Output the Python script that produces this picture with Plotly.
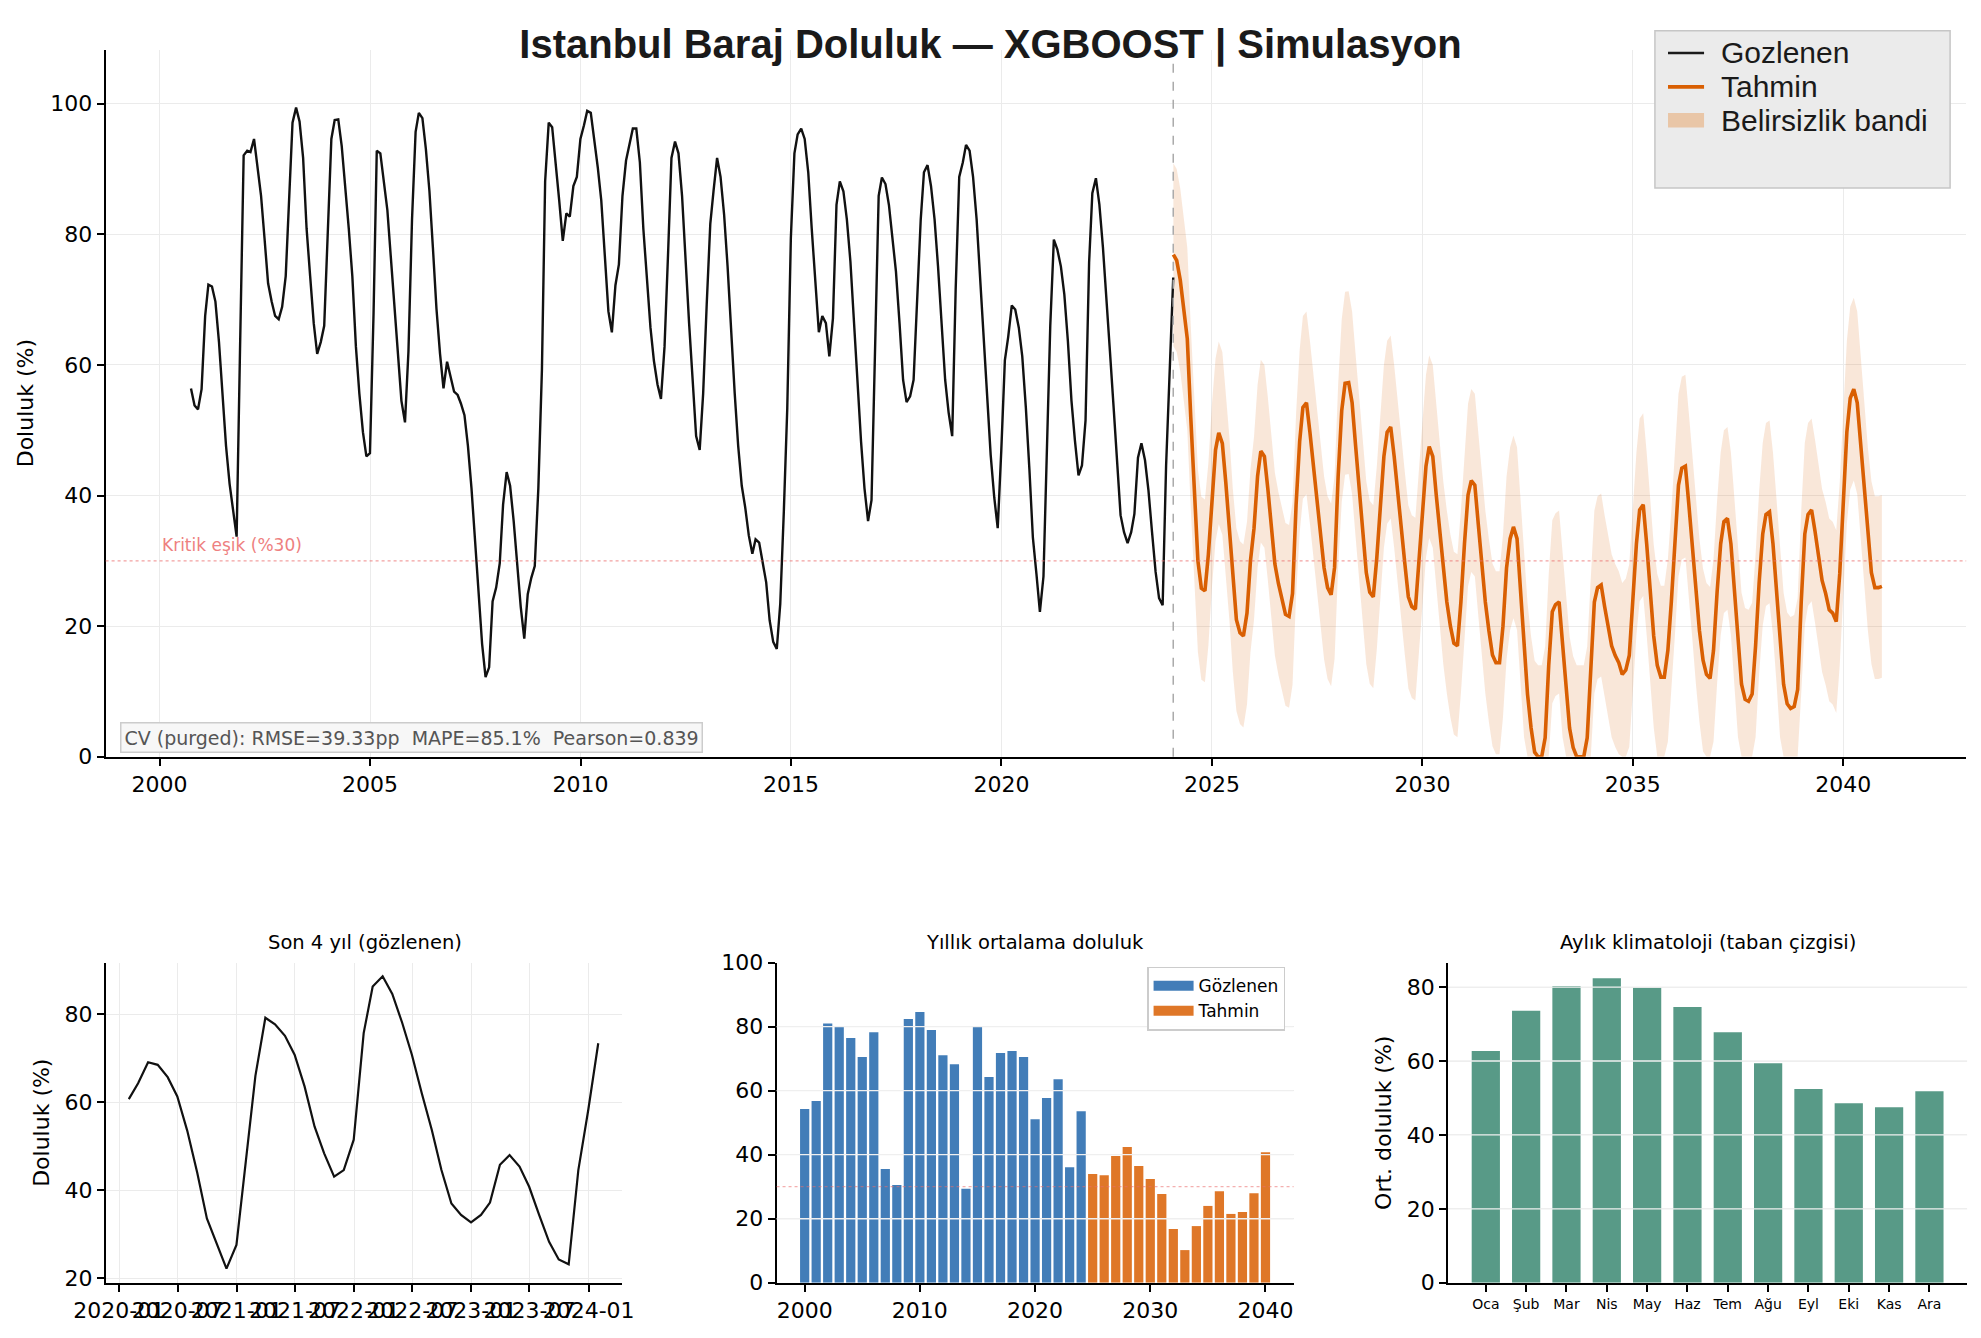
import pandas as pd
import plotly.graph_objects as go

# ---------------- data ----------------
obs_start = "2000-09-30"   # monthly, month-end
observed = [
    56.4, 53.8, 53.2, 56.3,
    67.5, 72.3, 72.0, 69.7, 63.5, 54.8, 47.6, 41.8, 37.5, 33.7, 62.8, 92.1,
    92.8, 92.6, 94.6, 90.6, 85.9, 79.4, 72.5, 69.7, 67.5, 67.0, 68.9, 73.6,
    85.9, 97.1, 99.4, 97.3, 91.7, 80.9, 73.6, 66.4, 61.7, 63.5, 66.0, 80.9,
    94.6, 97.5, 97.6, 93.5, 87.4, 80.9, 73.6, 62.8, 55.6, 49.7, 46.0, 46.5,
    67.8, 92.8, 92.4, 88.1, 83.7, 76.5, 69.3, 62.1, 54.5, 51.2, 62.1, 82.3,
    95.7, 98.6, 97.8, 93.1, 86.6, 78.0, 68.6, 61.7, 56.4, 60.5, 58.1, 55.9,
    55.4, 54.1, 52.3, 47.6, 41.1, 33.2, 24.5, 17.3, 12.2, 13.7, 23.8, 25.9,
    29.6, 38.6, 43.6, 41.5, 36.1, 29.6, 23.0, 18.1, 24.9, 27.4, 29.2, 41.1,
    59.2, 88.1, 97.1, 96.4, 91.0, 85.2, 79.0, 83.2, 82.7, 87.4, 88.8, 94.6,
    96.7, 98.9, 98.6, 94.6, 90.2, 85.2, 77.2, 68.2, 65.0, 72.2, 75.4, 85.9,
    91.3, 93.7, 96.2, 96.2, 91.0, 80.9, 73.6, 65.7, 60.6, 57.0, 54.8, 62.8,
    77.2, 91.7, 94.2, 92.4, 85.9, 75.8, 66.4, 57.7, 49.1, 47.0, 55.6, 69.3,
    81.6, 86.6, 91.7, 88.8, 83.0, 75.1, 65.0, 55.6, 47.6, 41.5, 38.2, 33.9,
    31.1, 33.3, 32.8, 29.6, 26.7, 20.9, 17.6, 16.5, 23.4, 37.5, 53.4, 79.4,
    92.4, 95.3, 96.2, 94.6, 89.5, 80.9, 72.2, 65.0, 67.5, 66.4, 61.3, 67.1,
    84.5, 88.1, 86.6, 82.3, 75.8, 66.4, 57.0, 48.3, 41.1, 36.1, 39.3, 65.0,
    85.9, 88.7, 87.7, 84.5, 79.4, 74.3, 66.4, 57.7, 54.3, 55.2, 57.7, 70.0,
    82.3, 89.5, 90.6, 87.4, 82.3, 75.1, 67.1, 57.7, 52.7, 49.1, 71.5, 88.8,
    91.0, 93.7, 92.8, 88.8, 82.3, 73.6, 65.0, 54.8, 46.2, 39.7, 35.0, 46.9,
    60.7, 64.3, 69.1, 68.5, 65.7, 61.3, 53.5, 44.0, 33.6, 28.0, 22.2, 27.6,
    48.0, 66.0, 79.2, 77.7, 75.1, 70.8, 63.6, 54.5, 48.4, 43.1, 44.6, 51.5,
    75.7, 86.3, 88.6, 84.6, 78.0, 70.8, 62.0, 53.7, 44.6, 37.0, 34.4, 32.7,
    34.4, 37.2, 45.8, 48.0, 45.4, 40.8, 34.4, 28.3, 24.3, 23.2, 44.6, 58.3,
    73.4,
]

fc_start = "2024-02-01"    # monthly, month-start
forecast = [
    76.9, 76.0, 73.0, 69.0, 64.0, 52.0, 40.0, 30.0, 25.8, 25.4, 31.0,
    40.0, 47.0, 49.6, 48.0, 42.0, 35.0, 27.0, 21.0, 19.0, 18.5, 22.0, 30.0,
    35.0, 43.0, 46.8, 46.0, 41.0, 35.0, 29.5, 26.5, 24.0, 21.8, 21.5, 25.0,
    38.6, 48.3, 53.5, 54.2, 49.7, 44.5, 39.3, 34.1, 28.9, 25.9, 24.8, 29.0,
    43.0, 53.0, 57.2, 57.3, 54.2, 47.5, 40.8, 34.1, 28.2, 25.2, 24.5, 30.4,
    38.6, 46.0, 49.7, 50.5, 46.0, 40.1, 34.9, 29.7, 24.5, 23.0, 22.6, 29.7,
    38.6, 44.5, 47.5, 46.0, 40.1, 34.1, 28.2, 23.7, 20.0, 17.4, 17.0, 23.7,
    32.6, 40.1, 42.3, 41.6, 35.6, 29.7, 23.7, 19.3, 15.6, 14.4, 14.4, 20.0,
    28.9, 33.4, 35.2, 33.4, 25.2, 17.0, 9.6, 4.4, 0.7, 0.0, 0.0, 2.9,
    14.0, 22.2, 23.3, 23.7, 17.0, 10.3, 4.4, 1.4, 0.0, 0.0, 0.0, 2.9,
    14.0, 23.7, 25.9, 26.3, 23.0, 20.0, 17.0, 15.5, 14.4, 12.6, 13.3, 15.5,
    23.7, 32.6, 37.8, 38.6, 32.6, 25.2, 18.5, 14.0, 12.2, 12.2, 16.3, 23.7,
    32.6, 41.6, 44.2, 44.5, 38.6, 31.9, 25.2, 19.3, 14.8, 12.6, 12.0, 16.3,
    25.2, 32.6, 36.0, 36.5, 32.6, 25.2, 17.0, 11.1, 8.8, 8.5, 9.6, 17.0,
    26.7, 34.1, 37.1, 37.5, 32.6, 25.2, 17.0, 11.1, 8.1, 7.4, 7.7, 10.3,
    23.7, 34.1, 37.1, 37.8, 34.5, 30.4, 27.0, 25.0, 22.5, 22.0, 20.7, 28.0,
    38.6, 49.7, 54.9, 56.3, 54.2, 47.5, 40.1, 33.4, 28.2, 25.9, 25.9, 26.1,
]

band_upper = [
    90.9, 90.0, 87.0, 83.0, 78.0, 66.0, 54.0, 44.0, 39.8, 39.4, 45.0,
    54.0, 61.0, 63.6, 62.0, 56.0, 49.0, 41.0, 35.0, 33.0, 32.5, 36.0, 44.0,
    49.0, 57.0, 60.8, 60.0, 55.0, 49.0, 43.5, 40.5, 38.0, 35.8, 35.5, 39.0,
    52.6, 62.3, 67.5, 68.2, 63.7, 58.5, 53.3, 48.1, 42.9, 39.9, 38.8, 43.0,
    57.0, 67.0, 71.2, 71.3, 68.2, 61.5, 54.8, 48.1, 42.2, 39.2, 38.5, 44.4,
    52.6, 60.0, 63.7, 64.5, 60.0, 54.1, 48.9, 43.7, 38.5, 37.0, 36.6, 43.7,
    52.6, 58.5, 61.5, 60.0, 54.1, 48.1, 42.2, 37.7, 34.0, 31.4, 31.0, 37.7,
    46.6, 54.1, 56.3, 55.6, 49.6, 43.7, 37.7, 33.3, 29.6, 28.4, 28.4, 34.0,
    42.9, 47.4, 49.2, 47.4, 39.2, 31.0, 23.6, 18.4, 14.7, 14.0, 14.0, 16.9,
    28.0, 36.2, 37.3, 37.7, 31.0, 24.3, 18.4, 15.4, 14.0, 14.0, 14.0, 16.9,
    28.0, 37.7, 39.9, 40.3, 37.0, 34.0, 31.0, 29.5, 28.4, 26.6, 27.3, 29.5,
    37.7, 46.6, 51.8, 52.6, 46.6, 39.2, 32.5, 28.0, 26.2, 26.2, 30.3, 37.7,
    46.6, 55.6, 58.2, 58.5, 52.6, 45.9, 39.2, 33.3, 28.8, 26.6, 26.0, 30.3,
    39.2, 46.6, 50.0, 50.5, 46.6, 39.2, 31.0, 25.1, 22.8, 22.5, 23.6, 31.0,
    40.7, 48.1, 51.1, 51.5, 46.6, 39.2, 31.0, 25.1, 22.1, 21.4, 21.7, 24.3,
    37.7, 48.1, 51.1, 51.8, 48.5, 44.4, 41.0, 39.0, 36.5, 36.0, 34.7, 42.0,
    52.6, 63.7, 68.9, 70.3, 68.2, 61.5, 54.1, 47.4, 42.2, 39.9, 39.9, 40.1,
]

band_lower = [
    62.9, 62.0, 59.0, 55.0, 50.0, 38.0, 26.0, 16.0, 11.8, 11.4, 17.0,
    26.0, 33.0, 35.6, 34.0, 28.0, 21.0, 13.0, 7.0, 5.0, 4.5, 8.0, 16.0,
    21.0, 29.0, 32.8, 32.0, 27.0, 21.0, 15.5, 12.5, 10.0, 7.8, 7.5, 11.0,
    24.6, 34.3, 39.5, 40.2, 35.7, 30.5, 25.3, 20.1, 14.9, 11.9, 10.8, 15.0,
    29.0, 39.0, 43.2, 43.3, 40.2, 33.5, 26.8, 20.1, 14.2, 11.2, 10.5, 16.4,
    24.6, 32.0, 35.7, 36.5, 32.0, 26.1, 20.9, 15.7, 10.5, 9.0, 8.6, 15.7,
    24.6, 30.5, 33.5, 32.0, 26.1, 20.1, 14.2, 9.7, 6.0, 3.4, 3.0, 9.7,
    18.6, 26.1, 28.3, 27.6, 21.6, 15.7, 9.7, 5.3, 1.6, 0.4, 0.4, 6.0,
    14.9, 19.4, 21.2, 19.4, 11.2, 3.0, 0.0, 0.0, 0.0, 0.0, 0.0, 0.0,
    0.0, 8.2, 9.3, 9.7, 3.0, 0.0, 0.0, 0.0, 0.0, 0.0, 0.0, 0.0,
    0.0, 9.7, 11.9, 12.3, 9.0, 6.0, 3.0, 1.5, 0.4, 0.0, 0.0, 1.5,
    9.7, 18.6, 23.8, 24.6, 18.6, 11.2, 4.5, 0.0, 0.0, 0.0, 2.3, 9.7,
    18.6, 27.6, 30.2, 30.5, 24.6, 17.9, 11.2, 5.3, 0.8, 0.0, 0.0, 2.3,
    11.2, 18.6, 22.0, 22.5, 18.6, 11.2, 3.0, 0.0, 0.0, 0.0, 0.0, 3.0,
    12.7, 20.1, 23.1, 23.5, 18.6, 11.2, 3.0, 0.0, 0.0, 0.0, 0.0, 0.0,
    9.7, 20.1, 23.1, 23.8, 20.5, 16.4, 13.0, 11.0, 8.5, 8.0, 6.7, 14.0,
    24.6, 35.7, 40.9, 42.3, 40.2, 33.5, 26.1, 19.4, 14.2, 11.9, 11.9, 12.1,
]

annual_obs_years = list(range(2000, 2025))
annual_obs = [54.3, 56.8, 81.0, 80.2, 76.5, 70.5, 78.3, 35.5, 30.5, 82.4,
              84.6, 79.0, 71.1, 68.3, 29.4, 80.2, 64.3, 71.8, 72.4, 70.5,
              51.1, 57.7, 63.6, 36.1, 53.6]
annual_fc_years = list(range(2025, 2041))
annual_fc = [34.0, 33.6, 39.6, 42.4, 36.5, 32.4, 27.7, 16.8, 10.2, 17.7,
             24.0, 28.6, 21.5, 22.1, 28.0, 40.8]

months = ["Oca", "Şub", "Mar", "Nis", "May", "Haz", "Tem", "Ağu", "Eyl", "Eki", "Kas", "Ara"]
climatology = [62.7, 73.6, 80.3, 82.4, 79.8, 74.6, 67.8, 59.4, 52.4, 48.6, 47.5, 51.8]

critical_level = 30
recent_start = "2020-01-01"
main_legend_labels = ["Gozlenen", "Tahmin", "Belirsizlik bandi"]

# ---------------- derived dates ----------------
obs_dates = pd.date_range(obs_start, periods=len(observed), freq=pd.offsets.MonthEnd())
fc_dates = pd.date_range(fc_start, periods=len(forecast), freq="MS")
obs_series = pd.Series(observed, index=obs_dates)
recent = obs_series[obs_series.index >= recent_start]

# ---------------- style ----------------
FONT = "DejaVu Sans"
SANS2 = "Liberation Sans, Arial, sans-serif"
BLACK = "#111111"
ORANGE = "#d95f02"
BAND = "rgba(217,95,2,0.15)"
BLUE_BAR = "rgba(33,102,172,0.85)"
ORANGE_BAR = "rgba(217,95,2,0.85)"
GRID = "#ebebeb"
W, H = 1981, 1338

fig = go.Figure()

# main panel
fig.add_trace(go.Scatter(x=fc_dates, y=band_lower, mode="lines", line=dict(width=0, color=ORANGE),
                         showlegend=False, hoverinfo="skip", xaxis="x", yaxis="y"))
fig.add_trace(go.Scatter(x=fc_dates, y=band_upper, mode="lines", line=dict(width=0, color=ORANGE),
                         fill="tonexty", fillcolor=BAND, name=main_legend_labels[2],
                         showlegend=False, xaxis="x", yaxis="y"))
fig.add_trace(go.Scatter(x=obs_dates, y=observed, mode="lines", line=dict(color=BLACK, width=2.4),
                         name=main_legend_labels[0], showlegend=False, xaxis="x", yaxis="y"))
fig.add_trace(go.Scatter(x=fc_dates, y=forecast, mode="lines", line=dict(color=ORANGE, width=3.6),
                         name=main_legend_labels[1], showlegend=False, xaxis="x", yaxis="y"))

# bottom-left: last 4 years
fig.add_trace(go.Scatter(x=recent.index, y=recent.values, mode="lines",
                         line=dict(color=BLACK, width=2.2), showlegend=False,
                         xaxis="x2", yaxis="y2"))

# bottom-middle: annual means
fig.add_trace(go.Bar(x=annual_obs_years, y=annual_obs, width=0.8, name="Gözlenen", showlegend=False,
                     marker=dict(color=BLUE_BAR, line=dict(width=0)),
                     xaxis="x3", yaxis="y3"))
fig.add_trace(go.Bar(x=annual_fc_years, y=annual_fc, width=0.8, name="Tahmin", showlegend=False,
                     marker=dict(color=ORANGE_BAR, line=dict(width=0)),
                     xaxis="x3", yaxis="y3"))
fig.add_trace(go.Scatter(x=[None], y=[None], mode="lines", line=dict(color=BLUE_BAR, width=13),
                         name="Gözlenen", legend="legend2", legendrank=1, xaxis="x3", yaxis="y3"))
fig.add_trace(go.Scatter(x=[None], y=[None], mode="lines", line=dict(color=ORANGE_BAR, width=13),
                         name="Tahmin", legend="legend2", legendrank=2, xaxis="x3", yaxis="y3"))

# bottom-right: monthly climatology
fig.add_trace(go.Bar(x=months, y=climatology, width=0.7, showlegend=False,
                     marker=dict(color="#589a87", line=dict(width=0)),
                     xaxis="x4", yaxis="y4"))

axis_common = dict(showline=True, linecolor="black", linewidth=2, ticks="outside",
                   ticklen=7, tickwidth=1.6, tickcolor="black", zeroline=False, automargin=False,
                   gridcolor=GRID, gridwidth=1.2, tickfont=dict(family=FONT, size=22, color="black"))
ytitle_font = dict(family=FONT, size=22, color="black")

ybot = [0.0413, 0.2805]

fig.update_layout(
    width=W, height=H, margin=dict(l=0, r=0, t=0, b=0, autoexpand=False),
    paper_bgcolor="white", plot_bgcolor="white",
    font=dict(family=FONT, size=22, color="black"),
    barmode="overlay",
    title=dict(text="<b>Istanbul Baraj Doluluk — XGBOOST | Simulasyon</b>",
               font=dict(family=SANS2, size=40, color="#1a1a1a"),
               x=0.5, xanchor="center", y=0.967, yanchor="middle"),
    xaxis=dict(domain=[0.0533, 0.9925], anchor="y", type="date",
               range=["1998-09-20", "2042-12-02"], tick0="2000-01-01", dtick="M60",
               tickformat="%Y", showgrid=True, **axis_common),
    yaxis=dict(domain=[0.4344, 0.963], anchor="x", range=[0, 108.3], tick0=0, dtick=20,
               showgrid=True, title=dict(text="Doluluk (%)", font=ytitle_font, standoff=10),
               **axis_common),
    xaxis2=dict(domain=[0.0535, 0.314], anchor="y2", type="date",
                range=["2019-11-21", "2024-04-14"], tick0="2020-01-01", dtick="M6",
                tickformat="%Y-%m", tickangle=0, showgrid=True, **axis_common),
    yaxis2=dict(domain=ybot, anchor="x2", range=[19, 91.7], tick0=0, dtick=20, showgrid=True,
                title=dict(text="Doluluk (%)", font=ytitle_font, standoff=9), **axis_common),
    xaxis3=dict(domain=[0.392, 0.653], anchor="y3", range=[1997.56, 2042.44], tick0=2000,
                dtick=10, showgrid=False, **axis_common),
    yaxis3=dict(domain=ybot, anchor="x3", range=[0, 100], tick0=0, dtick=20, showgrid=True,
                **axis_common),
    xaxis4=dict(domain=[0.731, 0.993], anchor="y4", type="category", range=[-0.935, 11.935],
                showgrid=False, **{**axis_common, "tickfont": dict(family=FONT, size=14, color="black")}),
    yaxis4=dict(domain=ybot, anchor="x4", range=[0, 86.6], tick0=0, dtick=20, showgrid=True,
                title=dict(text="Ort. doluluk (%)", font=ytitle_font, standoff=9), **axis_common),
    legend2=dict(x=0.6487, y=0.2775, xanchor="right", yanchor="top",
                 bgcolor="rgba(255,255,255,0.85)", bordercolor="#cccccc", borderwidth=1.5,
                 font=dict(family=FONT, size=17, color="black"), itemwidth=40,
                 traceorder="normal"),
    showlegend=True,
)

shapes = []
# main legend frame and keys
shapes.append(dict(type="rect", xref="paper", yref="paper", x0=0.8354, x1=0.9844, y0=0.8595, y1=0.977,
                   fillcolor="#ebebeb", line=dict(color="#c6c6c6", width=1.5), layer="above"))
key_x0, key_x1, text_x = 0.842, 0.8602, 0.8675
key_rows = [0.9604, 0.9351, 0.9101]
shapes.append(dict(type="line", xref="paper", yref="paper", x0=key_x0, x1=key_x1,
                   y0=key_rows[0], y1=key_rows[0], line=dict(color="#1a1a1a", width=2.6), layer="above"))
shapes.append(dict(type="line", xref="paper", yref="paper", x0=key_x0, x1=key_x1,
                   y0=key_rows[1], y1=key_rows[1], line=dict(color=ORANGE, width=3.6), layer="above"))
shapes.append(dict(type="rect", xref="paper", yref="paper", x0=key_x0, x1=key_x1,
                   y0=key_rows[2] - 0.0054, y1=key_rows[2] + 0.0054, fillcolor="#e9c6a7",
                   line=dict(width=0), layer="above"))
# critical level lines
shapes.append(dict(type="line", xref="x domain", yref="y", x0=0, x1=1, y0=critical_level, y1=critical_level,
                   line=dict(color="rgba(235,110,110,0.65)", width=1.3, dash="dot"), layer="above"))
shapes.append(dict(type="line", xref="x3 domain", yref="y3", x0=0, x1=1, y0=critical_level, y1=critical_level,
                   line=dict(color="rgba(235,110,110,0.55)", width=1.3, dash="dot"), layer="above"))
# forecast start
shapes.append(dict(type="line", xref="x", yref="y domain", x0=obs_dates[-1], x1=obs_dates[-1], y0=0, y1=1,
                   line=dict(color="#aaaaaa", width=1.5, dash="dash"), layer="above"))
# grid lines drawn over bars
for yv in [20, 40, 60, 80]:
    shapes.append(dict(type="line", xref="x3 domain", yref="y3", x0=0, x1=1, y0=yv, y1=yv,
                       line=dict(color="#efefef", width=1.3), layer="above"))
    shapes.append(dict(type="line", xref="x4 domain", yref="y4", x0=0, x1=1, y0=yv, y1=yv,
                       line=dict(color="#efefef", width=1.3), layer="above"))
fig.update_layout(shapes=shapes)

ann = []
for lbl, yy in zip(main_legend_labels, key_rows):
    ann.append(dict(text=lbl, xref="paper", yref="paper", x=text_x, y=yy, xanchor="left",
                    yanchor="middle", showarrow=False,
                    font=dict(family=SANS2, size=30, color="#1a1a1a")))
sub_y = 1 - 955.5 / H
for xc, txt in [(0.184, "Son 4 yıl (gözlenen)"), (0.5225, "Yıllık ortalama doluluk"),
                (0.862, "Aylık klimatoloji (taban çizgisi)")]:
    ann.append(dict(text=txt, xref="paper", yref="paper", x=xc, y=sub_y, xanchor="center",
                    yanchor="bottom", showarrow=False, font=dict(family=FONT, size=19.5, color="black")))
ann.append(dict(text="Kritik eşik (%30)", xref="x", yref="y", x="2000-01-01", y=30.6,
                xanchor="left", yanchor="bottom", showarrow=False,
                font=dict(family=FONT, size=17, color="#ee8080")))
ann.append(dict(text="CV (purged): RMSE=39.33pp  MAPE=85.1%  Pearson=0.839", xref="paper", yref="paper",
                x=0.0604, y=0.4375, xanchor="left", yanchor="bottom", showarrow=False,
                font=dict(family=FONT, size=19, color="#555555"), bgcolor="#f7f7f7",
                bordercolor="#cccccc", borderwidth=1.5, borderpad=3))
fig.update_layout(annotations=ann)

fig.write_html("out.html", config={"displayModeBar": False},
               post_script="document.body.style.margin='0';")
